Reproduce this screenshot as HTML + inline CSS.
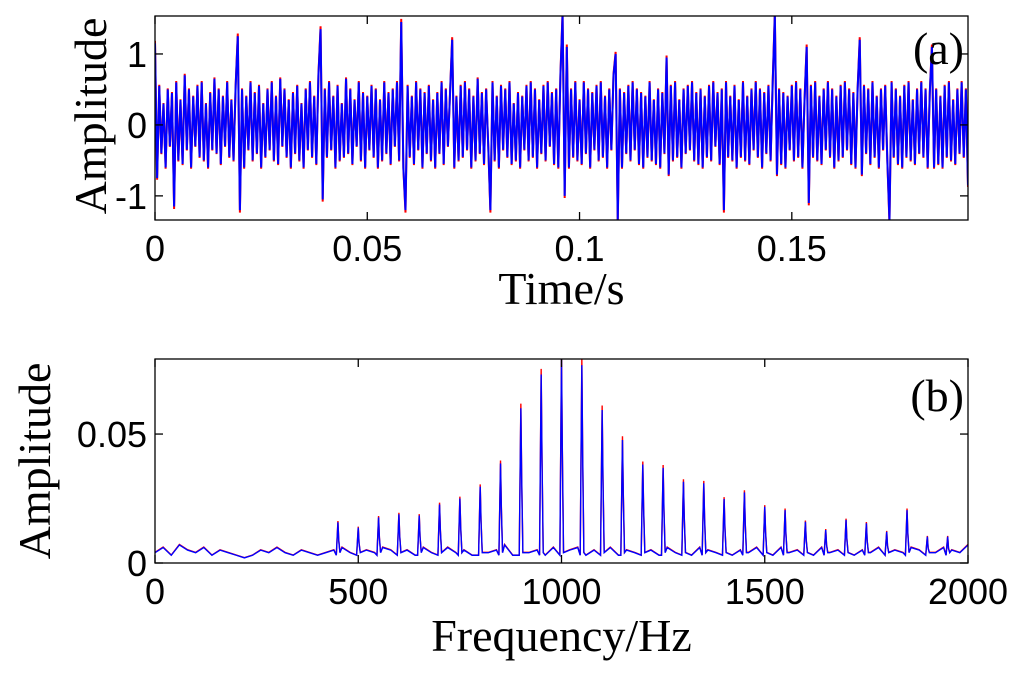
<!DOCTYPE html>
<html><head><meta charset="utf-8"><style>
html,body{margin:0;padding:0;background:#fff;}
svg{display:block;}
.tk{font-family:"Liberation Sans",sans-serif;font-size:36px;fill:#000;}
.tt{font-family:"Liberation Serif",serif;font-size:46px;fill:#000;}
</style></head><body>
<svg id="fig" width="1024" height="680" viewBox="0 0 1024 680"></svg>
<script>
// ---- time-domain data (a) ----
const tMax = 0.1915;
const timeVals = [
1.15,-0.75,0.55,-0.4,0.3,-0.6,0.5,-0.3,0.45,-1.15,0.6,-0.5,0.35,-0.55,0.7,-0.35,
0.5,-0.6,0.4,-0.3,0.55,-0.45,0.6,-0.5,0.3,-0.6,0.45,-0.35,0.65,-0.4,0.5,-0.55,
0.4,-0.3,0.6,-0.45,0.35,-0.5,0.55,1.25,-1.2,0.5,-0.6,0.4,-0.35,0.6,-0.5,0.45,
-0.4,0.55,-0.6,0.3,-0.45,0.5,-0.35,0.6,-0.5,0.4,-0.55,0.65,-0.3,0.5,-0.45,0.35,
-0.6,0.45,-0.4,0.55,-0.5,0.3,-0.6,0.5,-0.35,0.6,-0.45,0.4,-0.55,0.7,1.35,-1.05,
0.5,-0.45,0.6,-0.35,0.4,-0.6,0.55,-0.5,0.3,-0.45,0.65,-0.4,0.5,-0.55,0.35,-0.3,
0.6,-0.5,0.45,-0.6,0.4,-0.35,0.55,-0.45,0.5,-0.6,0.35,-0.5,0.6,-0.4,0.45,-0.55,
0.5,-0.3,0.6,-0.5,1.45,-0.6,-1.2,0.55,-0.45,0.4,-0.55,0.6,-0.35,0.5,-0.6,0.45,
-0.4,0.55,-0.5,0.35,-0.6,0.45,-0.4,0.6,-0.55,0.5,-0.3,0.45,1.2,-0.6,0.4,-0.5,
0.55,-0.45,0.6,-0.35,0.5,-0.6,0.4,-0.5,0.65,-0.4,0.45,-0.55,0.5,-0.3,-1.2,0.6,
-0.5,0.4,-0.6,0.55,-0.35,0.5,-0.45,0.6,-0.55,0.3,-0.5,0.45,-0.6,0.4,-0.35,0.55,
-0.5,0.6,-0.45,0.5,-0.6,0.35,-0.4,0.55,-0.5,0.6,-0.3,0.45,-0.55,0.5,-0.6,0.7,
1.55,-1.0,1.1,-0.6,0.5,-0.45,0.6,-0.5,0.35,-0.55,0.6,-0.4,0.5,-0.6,0.45,-0.35,
0.55,-0.5,0.6,-0.45,0.4,-0.6,0.5,-0.35,0.7,1.0,-1.35,0.5,-0.6,0.45,-0.4,0.55,
-0.5,0.6,-0.35,0.5,-0.55,0.45,-0.6,0.4,-0.45,0.6,-0.5,0.35,-0.55,0.5,-0.6,0.45,
-0.4,0.95,-0.7,0.55,-0.5,0.6,-0.45,0.35,-0.6,0.5,-0.4,0.55,-0.35,0.6,-0.5,0.45,
-0.55,0.5,-0.6,0.4,-0.45,0.55,-0.5,0.6,-0.3,0.45,-0.55,0.5,-1.2,0.6,-0.45,0.4,
-0.5,0.55,-0.6,0.35,-0.45,0.6,-0.5,0.4,-0.55,0.5,-0.35,0.6,-0.45,0.5,-0.6,0.45,
-0.4,0.55,-0.5,0.6,1.55,-0.7,0.5,-0.55,0.45,-0.6,0.4,-0.35,0.55,-0.5,0.6,-0.45,
0.5,-0.6,0.35,1.1,-1.1,0.55,-0.45,0.6,-0.5,0.4,-0.55,0.5,-0.35,0.6,-0.45,0.5,
-0.6,0.4,-0.5,0.55,-0.45,0.6,-0.35,0.5,-0.55,0.45,-0.6,0.5,1.2,-0.7,0.55,-0.4,
0.5,-0.55,0.6,-0.45,0.4,-0.6,0.5,-0.35,0.55,-0.5,-1.35,0.6,-0.45,0.5,-0.55,0.4,
-0.6,0.55,-0.45,0.6,-0.5,0.35,-0.55,0.5,-0.4,0.6,-0.45,0.5,-0.6,0.45,1.1,-0.6,
0.5,-0.55,0.4,-0.6,0.55,-0.45,0.6,-0.5,0.35,-0.55,0.5,-0.4,0.6,-0.45,0.5,-0.85];
const timeTicksX = [0,0.05,0.1,0.15];
const timeTickLabelsX = ["0","0.05","0.1","0.15"];
const timeTicksY = [-1,0,1];
const timeTickLabelsY = ["-1","0","1"];

// ---- spectrum data (b) ----
const baseStep = 20;
const baseVals = [
0.004,0.006,0.003,0.007,0.005,0.004,0.006,0.003,0.005,0.004,
0.003,0.002,0.003,0.005,0.004,0.006,0.004,0.003,0.005,0.004,
0.003,0.004,0.005,0.006,0.004,0.003,0.005,0.004,0.006,0.005,
0.004,0.005,0.003,0.006,0.004,0.005,0.006,0.004,0.005,0.003,
0.006,0.004,0.005,0.007,0.003,0.006,0.004,0.005,0.003,0.006,
0.004,0.005,0.006,0.003,0.005,0.004,0.006,0.003,0.005,0.004,
0.006,0.005,0.003,0.006,0.004,0.005,0.003,0.006,0.005,0.004,
0.006,0.003,0.005,0.004,0.006,0.005,0.003,0.006,0.004,0.005,
0.005,0.003,0.006,0.004,0.005,0.006,0.003,0.005,0.004,0.006,
0.003,0.005,0.004,0.006,0.005,0.003,0.004,0.006,0.005,0.004,0.007];
const peakFreqs = [450,500,550,600,650,700,750,800,850,900,950,1000,1050,1100,1150,1200,1250,1300,1350,1400,1450,1500,1550,1600,1650,1700,1750,1800,1850,1900,1950];
const peakVals = [0.0158,0.0137,0.0177,0.0189,0.0184,0.0227,0.025,0.0296,0.0386,0.06,0.0731,0.079,0.0767,0.0593,0.0477,0.0382,0.0369,0.0315,0.0309,0.0248,0.0274,0.0218,0.0205,0.016,0.0128,0.0167,0.0154,0.0121,0.0205,0.0102,0.0102];
const freqTicksX = [0,500,1000,1500,2000];
const freqTickLabelsX = ["0","500","1000","1500","2000"];
const freqTicksY = [0,0.05];
const freqTickLabelsY = ["0","0.05"];

const NS="http://www.w3.org/2000/svg";
const svg=document.getElementById('fig');
function mk(tag,attrs,parent){const e=document.createElementNS(NS,tag);for(const k in attrs)e.setAttribute(k,attrs[k]);(parent||svg).appendChild(e);return e;}

function panel(o){
  const g=mk('g',{});
  
  
  const sx=v=>o.x0+(v-o.xmin)/(o.xmax-o.xmin)*(o.x1-o.x0);
  const sy=v=>o.y1-(v-o.ymin)/(o.ymax-o.ymin)*(o.y1-o.y0);
  const cp='clip-'+o.name;
  const cl=mk('clipPath',{id:cp},g);mk('rect',{x:o.x0,y:o.y0,width:o.x1-o.x0,height:o.y1-o.y0},cl);
  const redPts=o.points.map(p=>sx(p[0]).toFixed(2)+','+sy(p[1]*1.03).toFixed(2)).join(' ');
  const pts=o.points.map(p=>sx(p[0]).toFixed(2)+','+sy(p[1]).toFixed(2)).join(' ');
  const red=mk('polyline',{points:redPts,fill:'none',stroke:'#ff0000','stroke-width':o.lw,'clip-path':'url(#'+cp+')'},g);
  
  
  const blue=mk('polyline',{points:pts,fill:'none',stroke:'#0000ff','stroke-width':o.lw,'clip-path':'url(#'+cp+')'},g);
  
  
  const box=mk('rect',{x:o.x0,y:o.y0,width:o.x1-o.x0,height:o.y1-o.y0,fill:'none',stroke:'#000','stroke-width':1.3},g);
  
  
  o.xt.forEach((v,i)=>{
    const x=sx(v);
    mk('line',{x1:x,x2:x,y1:o.y1,y2:o.y1-8,stroke:'#000','stroke-width':1.3},g);
    mk('line',{x1:x,x2:x,y1:o.y0,y2:o.y0+8,stroke:'#000','stroke-width':1.3},g);
    const t=mk('text',{x:x,y:o.y1+41,'text-anchor':'middle',class:'tk'},g);
    t.textContent=o.xl[i];
    
    
  });
  o.yt.forEach((v,i)=>{
    const y=sy(v);
    mk('line',{x1:o.x0,x2:o.x0+8,y1:y,y2:y,stroke:'#000','stroke-width':1.3},g);
    mk('line',{x1:o.x1,x2:o.x1-8,y1:y,y2:y,stroke:'#000','stroke-width':1.3},g);
    const t=mk('text',{x:o.x0-8,y:y+13,'text-anchor':'end',class:'tk'},g);
    t.textContent=o.yl[i];
    
    
  });
  const xt=mk('text',{x:(o.x0+o.x1)/2,y:o.y1+o.xtOff,'text-anchor':'middle',class:'tt'},g);
  xt.textContent=o.xtitle;
  
  
  const yt=mk('text',{x:0,y:0,'text-anchor':'middle',class:'tt',transform:'translate('+o.ytX+','+o.ytY+') rotate(-90)'},g);
  yt.textContent='Amplitude';
  
  
  const lb=mk('text',{x:o.x1-4,y:o.y0+o.lblOff,'text-anchor':'end',class:'tt'},g);
  lb.textContent=o.label;
  
  
}

const dt=tMax/(timeVals.length-1);
panel({name:'time-panel',x0:155,x1:968,y0:16,y1:220,xmin:0,xmax:tMax,ymin:-1.34,ymax:1.535,lw:2,
  points:timeVals.map((v,i)=>[i*dt,v]),xt:timeTicksX,xl:timeTickLabelsX,yt:timeTicksY,yl:timeTickLabelsY,
  xtitle:'Time/s',xtOff:84,ytX:106,ytY:116,label:'(a)',lblOff:48});

const specPts=[];
baseVals.forEach((v,i)=>{const f=i*baseStep;if(!peakFreqs.some(p=>Math.abs(p-f)<6))specPts.push([f,v]);});
peakFreqs.forEach((f,i)=>{specPts.push([f-4,0.003]);specPts.push([f,peakVals[i]]);specPts.push([f+2,peakVals[i]*0.55]);specPts.push([f+5,0.004]);});
specPts.sort((a,b)=>a[0]-b[0]);
panel({name:'spectrum-panel',x0:155,x1:968,y0:359,y1:563,xmin:0,xmax:2000,ymin:0,ymax:0.0791,lw:1.4,
  points:specPts,xt:freqTicksX,xl:freqTickLabelsX,yt:freqTicksY,yl:freqTickLabelsY,
  xtitle:'Frequency/Hz',xtOff:88,ytX:50,ytY:461,label:'(b)',lblOff:52});
</script>
</body></html>
